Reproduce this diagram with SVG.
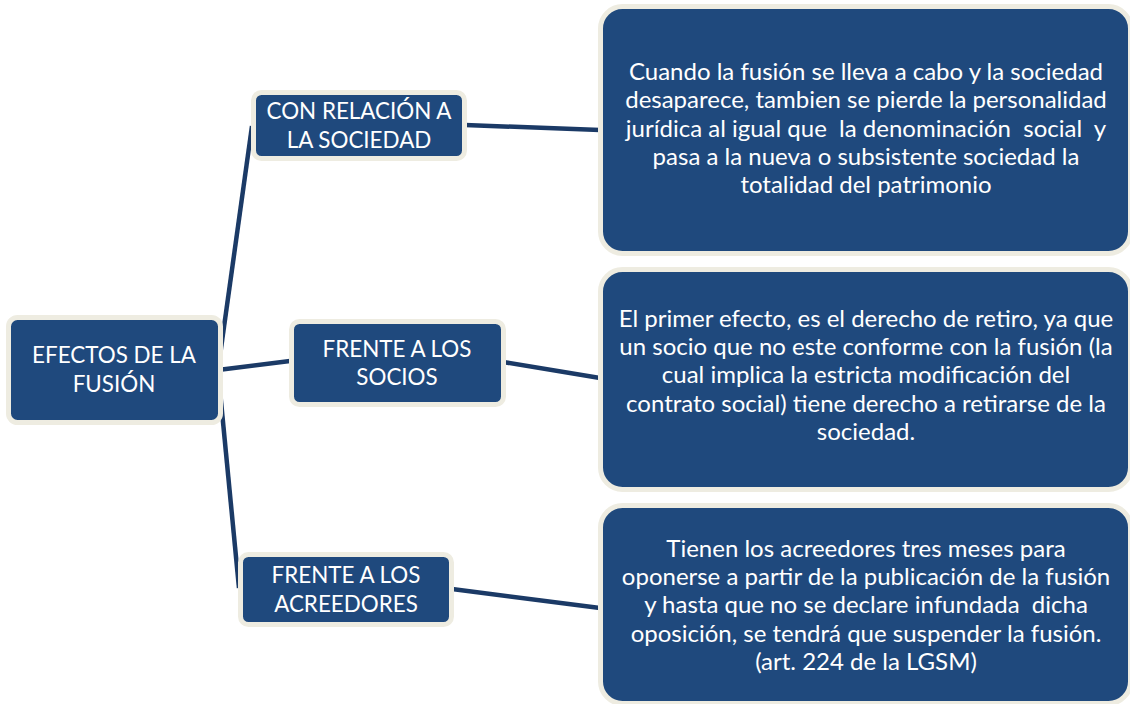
<svg xmlns="http://www.w3.org/2000/svg" width="1130" height="704" viewBox="0 0 1130 704">
<style>
.box{fill:#1F497D;stroke:#EEECE1;stroke-width:5}
.t{font-family:Lato,"Liberation Sans",sans-serif;fill:#FFFFFF;text-anchor:middle;white-space:pre}
.s{font-size:22.4px}
.b{font-size:24px}
.c{stroke:#1B3A66;stroke-width:4.5;fill:none;stroke-linecap:butt}
</style>
<rect width="1130" height="704" fill="#FFFFFF"/>
<g id="connectors">
<line class="c" x1="218" y1="370" x2="252" y2="126"/>
<line class="c" x1="218" y1="370" x2="290" y2="361"/>
<line class="c" x1="218" y1="370" x2="239" y2="588"/>
<line class="c" x1="465" y1="125" x2="600" y2="130"/>
<line class="c" x1="503" y1="362" x2="600" y2="378"/>
<line class="c" x1="452" y1="589" x2="600" y2="608"/>
</g>
<g id="root">
<rect class="box" x="8.5" y="317.5" width="212" height="105" rx="9"/>
<text class="t s" x="114" y="363">EFECTOS DE LA</text>
<text class="t s" x="114" y="392">FUSIÓN</text>
</g>
<g id="n-sociedad">
<rect class="box" x="253.5" y="92.5" width="211" height="66" rx="8"/>
<text class="t s" x="359" y="119">CON RELACIÓN A</text>
<text class="t s" x="359" y="148">LA SOCIEDAD</text>
</g>
<g id="n-socios">
<rect class="box" x="291.5" y="321.5" width="212" height="83" rx="8"/>
<text class="t s" x="397" y="357">FRENTE A LOS</text>
<text class="t s" x="397" y="385">SOCIOS</text>
</g>
<g id="n-acreedores">
<rect class="box" x="240.5" y="554.5" width="211" height="70" rx="8"/>
<text class="t s" x="346" y="583">FRENTE A LOS</text>
<text class="t s" x="346" y="612">ACREEDORES</text>
</g>
<g id="d-sociedad">
<rect class="box" x="600.5" y="6.5" width="530" height="247" rx="22"/>
<text class="t b" x="866" y="80">Cuando la fusión se lleva a cabo y la sociedad</text>
<text class="t b" x="866" y="108">desaparece, tambien se pierde la personalidad</text>
<text class="t b" x="866" y="137" xml:space="preserve">jurídica al igual que  la denominación  social  y</text>
<text class="t b" x="866" y="165">pasa a la nueva o subsistente sociedad la</text>
<text class="t b" x="866" y="193">totalidad del patrimonio</text>
</g>
<g id="d-socios">
<rect class="box" x="600.5" y="269.5" width="530" height="220" rx="22"/>
<text class="t b" x="866" y="327">El primer efecto, es el derecho de retiro, ya que</text>
<text class="t b" x="866" y="355">un socio que no este conforme con la fusión (la</text>
<text class="t b" x="866" y="383">cual implica la estricta modificación del</text>
<text class="t b" x="866" y="412">contrato social) tiene derecho a retirarse de la</text>
<text class="t b" x="866" y="440">sociedad.</text>
</g>
<g id="d-acreedores">
<rect class="box" x="600.5" y="505.5" width="530" height="198" rx="22"/>
<text class="t b" x="866" y="557">Tienen los acreedores tres meses para</text>
<text class="t b" x="866" y="585">oponerse a partir de la publicación de la fusión</text>
<text class="t b" x="866" y="613" xml:space="preserve">y hasta que no se declare infundada  dicha</text>
<text class="t b" x="866" y="642">oposición, se tendrá que suspender la fusión.</text>
<text class="t b" x="866" y="670">(art. 224 de la LGSM)</text>
</g>
</svg>
